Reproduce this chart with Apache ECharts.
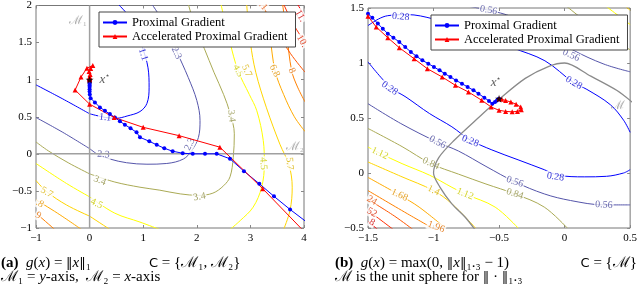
<!DOCTYPE html>
<html><head><meta charset="utf-8">
<script src="https://cdn.jsdelivr.net/npm/echarts@6.0.0/dist/echarts.min.js"></script>
<style>html,body{margin:0;padding:0;background:#fff}#c{width:640px;height:287px}</style>
</head><body><div id="c"></div><script>
// ---------- axis ticks ----------
const aXTicks = [-1, 0, 1, 2, 3, 4];
const aYTicks = [-1, -0.5, 0, 0.5, 1, 1.5, 2];
const bXTicks = [-1.5, -1, -0.5, 0, 0.5];
const bYTicks = [-0.5, 0, 0.5, 1, 1.5];
const seriesNames = ['Proximal Gradient', 'Accelerated Proximal Gradient'];

// ---------- panel (a): contour levels and traced pieces ----------
const aLevels = ['1.1', '2.3', '3.4', '4.5', '5.7', '6.8', '8', '9.1', '10.2', '11.4'];
const aC0 = [[[-1,0.93],[-0.5,0.74],[0,0.54]],
             [[0,0.54],[0.3,0.49],[0.5,0.48],[0.7,0.51],[0.94,0.57],[1.07,0.68],[1.11,0.89],[1.09,1.16],[0.98,1.45],[0.85,1.72],[0.72,1.87],[0.53,2.02]]];
const aC1 = [[[-1,0.49],[-0.5,0.29],[0,0.07]],
             [[0,0.07],[0.13,0]],
             [[0.13,0],[0.38,-0.07],[0.69,-0.12],[1.07,-0.14],[1.44,-0.13],[1.75,-0.07],[1.9,0.04],[2.03,0.22],[2.06,0.45],[2.0,0.72],[1.84,1.03],[1.62,1.39],[1.44,1.70],[1.16,2.02]]];
const aC2 = [[[-1,0.16],[-0.77,0.04],[-0.4,-0.12],[0,-0.27]],
             [[0,-0.27],[0.47,-0.38],[0.94,-0.45],[1.31,-0.49],[1.69,-0.54],[2.03,-0.56],[2.3,-0.53],[2.5,-0.43],[2.62,-0.31],[2.68,-0.05],[2.70,0.27],[2.62,0.55],[2.5,0.8],[2.32,1.1],[2.14,1.42],[1.97,1.72],[1.84,2.02]]];
const aC3 = [[[-1,-0.13],[-0.43,-0.40],[0,-0.58]],
             [[0,-0.58],[0.47,-0.80],[0.94,-0.92],[1.31,-1.02]],
             [[2.45,2.02],[2.62,1.5],[2.77,1.12],[2.98,0.8],[3.12,0.58],[3.24,0.18],[3.26,-0.13],[3.21,-0.45],[3.05,-0.72],[2.81,-0.9],[2.62,-1.02]]];
const aC4 = [[[-1,-0.36],[-0.8,-0.51],[-0.43,-0.69],[0,-0.84]],
             [[0,-0.84],[0.38,-1.02]],
             [[2.93,2.02],[3.0,1.5],[3.1,1.1],[3.3,0.62],[3.55,0.13],[3.72,-0.15],[3.78,-0.45],[3.74,-0.76],[3.62,-1.02]]];
const aC5 = [[[-1,-0.62],[-0.6,-0.8],[-0.15,-1.02]],
             [[3.25,2.02],[3.36,1.6],[3.46,1.12],[3.62,0.8],[3.82,0.5],[4.02,0.3]]];
const aC6 = [[[-1,-0.8],[-0.65,-1.02]],
             [[3.6,2.02],[3.68,1.6],[3.77,1.12],[3.88,0.9],[4.02,0.7]]];
const aC7 = [[[3.2,2.05],[3.45,1.7],[3.75,1.35],[4.02,1.1]]];
const aC8 = [[[3.6,2.05],[3.8,1.75],[4.02,1.5]]];
const aC9 = [[[3.85,2.05],[4.02,1.85]]];
const aLabels = [[0.29,0.49,'1.1'],[1.0,1.34,'1.1'],[0.26,-0.01,'2.3'],[1.87,0.13,'2.3'],[1.62,1.36,'2.3'],
  [0.19,-0.36,'3.4'],[2.05,-0.58,'3.4'],[2.645,0.51,'3.4'],[2.77,1.12,'4.5'],[3.24,-0.13,'4.5'],[0.13,-0.67,'4.5'],
  [2.93,1.12,'5.7'],[3.73,-0.13,'5.7'],[-0.8,-0.52,'5.7'],[3.45,1.12,'6.8'],[-0.93,-0.67,'.8'],[3.77,1.12,'8'],
  [-0.96,-0.83,'9'],[3.24,1.99,'.1'],[3.96,1.52,'10.'],[3.93,1.86,'11.']];
const aLabelLevel = [0,0,1,1,1,2,2,2,3,3,3,4,4,4,5,5,6,6,7,8,9];
const aLabelRot = [-6,-72,-4,65,-65,-22,10,-82,-65,-86,-25,-65,-86,-30,-65,-30,-65,-30,-50,-60,-60];

const aPG = [[4.05,-0.92],[3.74,-0.75],[3.44,-0.573],[3.166,-0.403],[2.88,-0.234],[2.619,-0.067],[2.371,0],[2.153,0],[1.924,0],[1.737,0.008],
  [1.55,0.035],[1.394,0.075],[1.252,0.121],[1.114,0.169],[0.94,0.223],[0.876,0.29],[0.764,0.344],[0.658,0.393],[0.565,0.438],[0.472,0.491],
  [0.379,0.536],[0.286,0.581],[0.193,0.626],[0.099,0.693],[0.019,0.751],[0.004,0.80],[0,0.84],[0,0.87],[0,0.9],[0,0.92],[0,0.94],[0,0.96],[0,0.975],[0,0.985],[0,0.995]];
const aAPG = [[4.1,-1.12],[3.23,-0.47],[2.43,0.09],[1.67,0.245],[1.0,0.357],[0.46,0.49],[0.0,0.67],[-0.27,0.86],[-0.16,1.035],[-0.05,1.155],
  [0.06,1.19],[0.02,1.15],[-0.01,1.11],[0.01,1.07],[0,1.04],[0,1.02],[0,1.01],[0,1.0]];
const aStar = [[0, 1]];

// ---------- panel (b) ----------
const bLevels = ['0.28', '0.56', '0.84', '1.12', '1.4', '1.68', '1.96', '2.24', '2.52', '2.8'];
const bC0 = [[[-1.5,1.34],[-1.42,1.40],[-1.35,1.43],[-1.2,1.44],[-1.0,1.40],[-0.7,1.29],[-0.4,1.14],[-0.15,1.02],[0.07,0.82],[0.17,0.76],[0.35,0.62],[0.45,0.48],[0.5,0.37]],
             [[-1.5,1.01],[-1.33,0.78],[-1.21,0.69],[-1.03,0.54],[-0.86,0.42],[-0.72,0.30],[-0.555,0.21],[-0.355,0.12],[-0.155,0.03],[-0.05,-0.02],[0.15,-0.035],[0.32,-0.03],[0.45,0.0],[0.5,0.03]]];
const bC1 = [[[-0.8,1.53],[-0.58,1.48],[-0.4,1.42],[-0.2,1.3],[0.06,1.12],[0.3,0.99],[0.5,0.92]],
             [[-1.5,0.63],[-1.25,0.45],[-0.97,0.28],[-0.81,0.2],[-0.6,0.06],[-0.38,-0.08],[-0.155,-0.19],[0.045,-0.25],[0.3,-0.29],[0.5,-0.29]]];
const bC2 = [[[-1.5,0.405],[-1.24,0.24],[-1.02,0.085],[-0.81,-0.01],[-0.6,-0.1],[-0.38,-0.19],[-0.155,-0.31],[0.02,-0.5]],
             [[0.0,1.53],[0.25,1.3],[0.5,1.12]]];
const bC3 = [[[-1.5,0.236],[-1.41,0.18],[-1.24,0.085],[-1.03,-0.02],[-0.86,-0.13],[-0.76,-0.19],[-0.53,-0.31],[-0.355,-0.5]],
             [[0.3,1.53],[0.5,1.35]]];
const bC4 = [[[-1.5,0.10],[-1.25,-0.03],[-1.0,-0.16],[-0.86,-0.28],[-0.68,-0.5]],
             [[0.45,1.53],[0.5,1.48]]];
const bC5 = [[[-1.5,-0.04],[-1.26,-0.2],[-1.11,-0.31],[-0.91,-0.5]]];
const bC6 = [[[-1.5,-0.16],[-1.2,-0.37],[-0.98,-0.52]]];
const bC7 = [[[-1.5,-0.24],[-1.3,-0.39],[-1.15,-0.52]]];
const bC8 = [[[-1.5,-0.34],[-1.3,-0.52]]];
const bC9 = [[[-1.5,-0.44],[-1.42,-0.52]]];
const bLabels = [[-1.25,1.42,'0.28'],[-1.335,0.77,'0.28'],[-0.72,0.29,'0.28'],[-0.07,-0.035,'0.28'],[0.07,0.82,'0.28'],
  [-0.58,1.48,'0.56'],[0.05,1.07,'0.56'],[-0.97,0.28,'0.56'],[-0.38,-0.08,'0.56'],[0.3,-0.29,'0.56'],
  [-1.02,0.085,'0.84'],[-0.38,-0.19,'0.84'],[-1.41,0.18,'1.12'],[-0.76,-0.19,'1.12'],[-1.0,-0.16,'1.4'],
  [-1.26,-0.2,'1.68'],[-0.98,-0.49,'1.96'],[-1.47,-0.25,'24'],[-1.47,-0.36,'52'],[-1.47,-0.45,'8']];
const bLabelLevel = [0,0,0,0,0,1,1,1,1,1,2,2,3,3,4,5,6,7,8,9];
const bLabelRot = [-5,-35,-22,-8,-30,-10,-25,-28,-18,-3,-25,-18,-25,-22,-25,-25,-20,-30,-30,-30];
const bSphere = [[-0.68,-0.52],[-0.76,-0.4],[-0.86,-0.28],[-0.95,-0.13],[-1,0],[-0.96,0.14],[-0.84,0.3],[-0.66,0.5],[-0.5,0.67],[-0.3,0.86],[-0.12,0.97],[0,1],[0.2,0.88],[0.4,0.75],[0.52,0.64]];
const bPG = [[-1.52,1.46],[-1.5,1.448],[-1.467,1.412],[-1.425,1.358],[-1.387,1.312],[-1.349,1.267],[-1.306,1.23],[-1.261,1.191],[-1.216,1.145],[-1.173,1.1],
  [-1.13,1.061],[-1.085,1.024],[-1.04,0.994],[-0.997,0.964],[-0.954,0.933],[-0.914,0.903],[-0.871,0.873],[-0.828,0.842],[-0.783,0.812],
  [-0.74,0.782],[-0.695,0.752],[-0.657,0.721],[-0.612,0.685],[-0.577,0.655],[-0.552,0.63],[-0.531,0.645],[-0.516,0.66],[-0.506,0.67],[-0.5,0.676]];
const bAPG = [[-1.52,1.44],[-1.5,1.424],[-1.437,1.327],[-1.349,1.23],[-1.261,1.139],[-1.148,1.039],[-1.047,0.948],[-0.934,0.873],[-0.833,0.797],
  [-0.733,0.736],[-0.632,0.661],[-0.56,0.6],[-0.5,0.57],[-0.45,0.56],[-0.4,0.556],[-0.36,0.56],[-0.33,0.575],[-0.335,0.6],[-0.37,0.625],[-0.41,0.645],[-0.45,0.66],[-0.48,0.67],[-0.5,0.676]];
const bStar = [[-0.5, 0.676]];

// ---------- styles ----------
const hot = ['#0000ff','#5555aa','#aaaa55','#ffff00','#ffd500','#ffaa00','#ff8000','#ff5500','#ff2b00','#ff0000'];
const labelHot = ['#0000cc','#44449a','#8c8c40','#c8c800','#d8b000','#e09000','#e06a00','#e04a00','#d82400','#cc0000'];
const SERIF = 'Liberation Serif';
const fmt = v => String(v).replace('-', '\u2212');

const chart = echarts.init(document.getElementById('c'), null, {renderer: 'canvas'});
const series = [];
function addContours(levelPieces, gi) {
  levelPieces.forEach((pieces, li) => pieces.forEach(p => series.push({
    type: 'line', xAxisIndex: gi * 2, yAxisIndex: gi * 2, data: p, symbol: 'none', smooth: 0.35,
    lineStyle: {color: hot[li], width: 1}, silent: true, z: 1, animation: false
  })));
}
function addLabels(lbls, lvls, rots, gi) {
  series.push({
    type: 'scatter', xAxisIndex: gi * 2, yAxisIndex: gi * 2, symbol: 'circle', symbolSize: 0.1, silent: true, z: 2,
    itemStyle: {color: 'rgba(0,0,0,0)'},
    data: lbls.map((l, i) => ({value: l, label: {rotate: rots[i], color: labelHot[lvls[i]]}})),
    label: {show: true, position: 'inside', formatter: p => p.value[2], fontFamily: SERIF, fontSize: 10,
      backgroundColor: '#fff', padding: [0, 1, 0, 1]}
  });
}
addContours([aC0,aC1,aC2,aC3,aC4,aC5,aC6,aC7,aC8,aC9], 0);
addContours([bC0,bC1,bC2,bC3,bC4,bC5,bC6,bC7,bC8,bC9], 1);
addLabels(aLabels, aLabelLevel, aLabelRot, 0);
addLabels(bLabels, bLabelLevel, bLabelRot, 1);

// manifolds
series.push({type:'line', xAxisIndex:0, yAxisIndex:0, data:[[0,-1],[0,2]], symbol:'none', lineStyle:{color:'#a0a0a0', width:1.5}, z:3, silent:true});
series.push({type:'line', xAxisIndex:0, yAxisIndex:0, data:[[-1,0],[4,0]], symbol:'none', lineStyle:{color:'#a0a0a0', width:1.5}, z:3, silent:true});
series.push({type:'line', xAxisIndex:2, yAxisIndex:2, data:bSphere, symbol:'none', smooth:0.3, lineStyle:{color:'#8a8a8a', width:1.3}, z:3, silent:true});
// manifold labels
series.push({type:'scatter', xAxisIndex:0, yAxisIndex:0, symbolSize:0.1, itemStyle:{color:'rgba(0,0,0,0)'}, z:3, silent:true,
  data:[[-0.22,1.79,'ℳ₁'],[3.83,0.1,'ℳ₂']],
  label:{show:true, position:'inside', formatter:p=>p.value[2], color:'#999', fontFamily:SERIF, fontSize:12}});
series.push({type:'scatter', xAxisIndex:2, yAxisIndex:2, symbolSize:0.1, itemStyle:{color:'rgba(0,0,0,0)'}, z:3, silent:true,
  data:[[0.41,0.615,'ℳ']],
  label:{show:true, position:'inside', formatter:p=>p.value[2], color:'#999', fontFamily:SERIF, fontSize:12}});

// trajectories
function traj(name, data, gi, color, sym, size) {
  series.push({name, type:'line', xAxisIndex: gi*2, yAxisIndex: gi*2, data, symbol: sym, symbolSize: size, showAllSymbol: true,
    itemStyle:{color}, lineStyle:{color, width:1}, z: 4, animation:false});
}
traj(seriesNames[0], aPG, 0, '#0000ff', 'circle', 4);
traj(seriesNames[1], aAPG, 0, '#ff0000', 'triangle', 5);
traj(seriesNames[0], bPG, 1, '#0000ff', 'circle', 4);
traj(seriesNames[1], bAPG, 1, '#ff0000', 'triangle', 5);

const STAR = 'path://M50,0 L61,35 L98,35 L68,57 L79,91 L50,70 L21,91 L32,57 L2,35 L39,35 Z';
const starLabelRich = {i:{fontFamily:SERIF, fontStyle:'italic', fontSize:13}, s:{fontSize:8, padding:[0,0,7,0]}};
series.push({type:'scatter', xAxisIndex:0, yAxisIndex:0, data:aStar, symbol:STAR, symbolSize:8, itemStyle:{color:'#000'}, z:6, silent:true,
  label:{show:true, position:'right', distance:6, formatter:'{i|x}{s|⋆}', rich:starLabelRich}});
series.push({type:'scatter', xAxisIndex:2, yAxisIndex:2, data:bStar, symbol:STAR, symbolSize:8, itemStyle:{color:'#000'}, z:6, silent:true,
  label:{show:true, position:'top', distance:5, offset:[-3,0], formatter:'{i|x}{s|⋆}', rich:starLabelRich}});

function xAx(gi, ticks, pos) {
  return {gridIndex: gi, type:'value', position: pos, min: ticks[0], max: ticks[ticks.length-1], interval: ticks[1]-ticks[0],
    axisLine:{show:false, onZero:false}, splitLine:{show:false},
    axisTick:{show:true, inside:true, length:3, lineStyle:{color:'#888'}},
    axisLabel:{show: pos === 'bottom', formatter: fmt, fontFamily: SERIF, fontSize: 11, color:'#000', margin: 5}};
}
function yAx(gi, ticks, pos) {
  return {gridIndex: gi, type:'value', position: pos, min: ticks[0], max: ticks[ticks.length-1], interval: ticks[1]-ticks[0],
    axisLine:{show:false, onZero:false}, splitLine:{show:false},
    axisTick:{show:true, inside:true, length:3, lineStyle:{color:'#888'}},
    axisLabel:{show: pos === 'left', formatter: fmt, fontFamily: SERIF, fontSize: 11, color:'#000', margin: 4}};
}

const legendCommon = {orient:'vertical', data: seriesNames, backgroundColor:'#fff', borderColor:'#444', borderWidth:1,
  itemWidth: 24, itemHeight: 6, itemGap: 1, padding:[4, 8, 4, 3], z: 10,
  textStyle:{fontFamily: SERIF, fontSize: 12.5, color:'#000', lineHeight: 13}, selectedMode: false};

const CF = 15;
const capRich = {
  b: {fontWeight:'bold', fontFamily:SERIF, fontSize:CF},
  i: {fontStyle:'italic', fontFamily:SERIF, fontSize:CF},
  n: {fontFamily:'DejaVu Serif', fontSize:CF - 2},
  s: {fontFamily:'DejaVu Sans', fontSize:CF - 2}
};
function cap(pos, y, text) {
  return Object.assign({type:'text', top: y, style:{text, rich: capRich, fontFamily: SERIF, fontSize: CF, fill:'#000'}}, pos);
}
chart.setOption({
  animation: false,
  backgroundColor: '#fff',
  grid: [
    {left: 36, top: 4, width: 268, height: 224, show: true, borderColor: '#777', borderWidth: 1, backgroundColor: 'transparent'},
    {left: 368, top: 8, width: 265, height: 220, show: true, borderColor: '#777', borderWidth: 1, backgroundColor: 'transparent'}
  ],
  xAxis: [xAx(0, aXTicks, 'bottom'), xAx(0, aXTicks, 'top'), xAx(1, bXTicks, 'bottom'), xAx(1, bXTicks, 'top')],
  yAxis: [yAx(0, aYTicks, 'left'), yAx(0, aYTicks, 'right'), yAx(1, bYTicks, 'left'), yAx(1, bYTicks, 'right')],
  legend: [
    Object.assign({left: 99, top: 12}, legendCommon),
    Object.assign({left: 431, top: 15}, legendCommon)
  ],
  series,
  graphic: [
    cap({left: 1}, 256, '{b|(a)}  {i|g}({i|x}) = {n|‖}{i|x}{n|‖}₁'),
    cap({left: 149}, 256, '{s|C} = {ℳ₁, ℳ₂}'),
    cap({left: 1}, 270, 'ℳ₁ = {i|y}-axis,  ℳ₂ = {i|x}-axis'),
    cap({left: 335}, 256, '{b|(b)}  {i|g}({i|x}) = max(0, {n|‖}{i|x}{n|‖}₁.₃ − 1)'),
    cap({right: 3}, 256, '{s|C} = {ℳ}'),
    cap({left: 335}, 270, 'ℳ is the unit sphere for {n|‖ · ‖}₁.₃')
  ]
});
</script></body></html>
